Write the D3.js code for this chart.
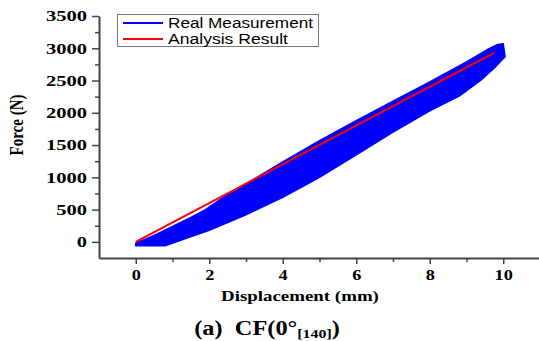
<!DOCTYPE html>
<html>
<head>
<meta charset="utf-8">
<script src="https://cdn.jsdelivr.net/npm/d3@7"></script>
<style>
  body { margin: 0; background: #fff; }
  svg { display: block; }
  .stretch { transform-box: fill-box; transform-origin: 50% 50%; transform: scaleX(1.22); }
  .stretch-r { transform-box: fill-box; transform-origin: 100% 50%; transform: scaleX(1.37); }
</style>
</head>
<body>
<div id="chart"></div>
<script>
// measured loops: loading (upper) and unloading (lower) envelope
const upperDisp  = [0, 0.5, 1.0, 1.5, 1.9, 2.3, 2.7, 3.0, 3.5, 4.0, 5.0, 6.0, 7.0, 8.0, 9.0, 9.6, 9.85, 10.0];
const upperForce = [-20, 100, 240, 380, 500, 660, 790, 900, 1070, 1240, 1570, 1880, 2180, 2480, 2790, 2990, 3060, 3070];
const lowerDisp  = [0, 0.8, 1.2, 2.0, 3.0, 4.0, 5.0, 6.0, 7.0, 8.0, 8.8, 9.4, 9.8, 10.05];
const lowerForce = [-60, -60, 20, 180, 420, 690, 1000, 1350, 1700, 2030, 2260, 2510, 2720, 2870];
// analysis result line
const analysisDisp  = [0, 9.75];
const analysisForce = [0, 2930];

const xTicks = [0, 2, 4, 6, 8, 10];
const xMinor = [1, 3, 5, 7, 9];
const yTicks = [0, 500, 1000, 1500, 2000, 2500, 3000, 3500];
const yMinor = [250, 750, 1250, 1750, 2250, 2750, 3250];
const legendLabels = ['Real Measurement', 'Analysis Result'];
const legendColors = ['#0000ff', '#ff0000'];

const W = 539, H = 341;
const svg = d3.select('#chart').append('svg').attr('width', W).attr('height', H);

const x = d3.scaleLinear().domain([-1, 11]).range([99, 540]);
const y = d3.scaleLinear().domain([-250, 3500]).range([258, 16]);

// band of loops
const band = upperDisp.map((d, i) => [d, upperForce[i]])
  .concat(lowerDisp.map((d, i) => [d, lowerForce[i]]).reverse());
const line = d3.line().x(d => x(d[0])).y(d => y(d[1]));

svg.append('path')
  .datum(band)
  .attr('d', line.curve(d3.curveLinearClosed))
  .attr('fill', '#0000ff')
  .attr('stroke', '#0000ff')
  .attr('stroke-width', 1.5)
  .attr('stroke-linejoin', 'round');

svg.append('path')
  .datum(analysisDisp.map((d, i) => [d, analysisForce[i]]))
  .attr('d', d3.line().x(d => x(d[0])).y(d => y(d[1])))
  .attr('fill', 'none')
  .attr('stroke', '#ff0000')
  .attr('stroke-width', 2);

// axes
const axisColor = '#444';
const gx = svg.append('g').attr('transform', 'translate(0,258)')
  .call(d3.axisBottom(x).tickValues(xTicks).tickSize(6).tickSizeOuter(0).tickPadding(5));
svg.append('g').attr('transform', 'translate(0,258)')
  .call(d3.axisBottom(x).tickValues(xMinor).tickSize(4).tickSizeOuter(0).tickFormat(''))
  .select('.domain').remove();
const gy = svg.append('g').attr('transform', 'translate(99,0)')
  .call(d3.axisLeft(y).tickValues(yTicks).tickFormat(d3.format('d')).tickSize(7).tickSizeOuter(0).tickPadding(5));
svg.append('g').attr('transform', 'translate(99,0)')
  .call(d3.axisLeft(y).tickValues(yMinor).tickSize(4).tickSizeOuter(0).tickFormat(''))
  .select('.domain').remove();

svg.selectAll('.domain').attr('stroke', axisColor).attr('stroke-width', 2);
svg.selectAll('.tick line').attr('stroke', axisColor).attr('stroke-width', 1.5);

gx.selectAll('.tick text')
  .attr('class', 'stretch')
  .attr('fill', '#000')
  .attr('font-family', '"Liberation Serif", serif')
  .attr('font-weight', 'bold')
  .attr('font-size', 15);
gy.selectAll('.tick text')
  .attr('class', 'stretch-r')
  .attr('fill', '#000')
  .attr('font-family', '"Liberation Serif", serif')
  .attr('font-weight', 'bold')
  .attr('font-size', 15);

// axis titles
svg.append('text')
  .attr('transform', 'translate(23,125) scale(1.25,1) rotate(-90)')
  .attr('text-anchor', 'middle')
  .attr('font-family', '"Liberation Serif", serif')
  .attr('font-weight', 'bold')
  .attr('font-size', 15)
  .text('Force (N)');

svg.append('text')
  .attr('class', 'stretch')
  .attr('x', 300).attr('y', 301)
  .attr('text-anchor', 'middle')
  .attr('font-family', '"Liberation Serif", serif')
  .attr('font-weight', 'bold')
  .attr('font-size', 15.5)
  .text('Displacement (mm)');

const title = svg.append('text')
  .attr('class', 'stretch')
  .attr('x', 267).attr('y', 335)
  .attr('text-anchor', 'middle')
  .attr('font-family', '"Liberation Serif", serif')
  .attr('font-weight', 'bold')
  .attr('font-size', 20);
title.append('tspan').text('(a)\u00a0\u00a0CF(0°');
title.append('tspan').attr('dy', 3).attr('font-size', 13).text('[140]');
title.append('tspan').attr('dy', -3).text(')');

// legend
const lg = svg.append('g');
lg.append('rect')
  .attr('x', 117.5).attr('y', 14.5).attr('width', 201).attr('height', 32)
  .attr('fill', '#fff').attr('stroke', '#777').attr('stroke-width', 1);
legendLabels.forEach((lab, i) => {
  const ly = 23 + i * 16;
  lg.append('line')
    .attr('x1', 123).attr('x2', 163).attr('y1', ly).attr('y2', ly)
    .attr('stroke', legendColors[i]).attr('stroke-width', 2);
  lg.append('text')
    .attr('x', 168).attr('y', ly + 5)
    .attr('textLength', i === 0 ? 145 : 120)
    .attr('lengthAdjust', 'spacingAndGlyphs')
    .attr('font-family', '"Liberation Sans", Arial, sans-serif')
    .attr('font-size', 14)
    .text(lab);
});
</script>
</body>
</html>
